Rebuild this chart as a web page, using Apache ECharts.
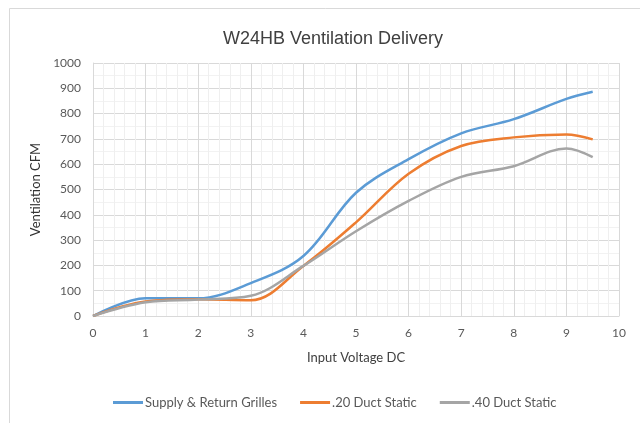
<!DOCTYPE html>
<html>
<head>
<meta charset="utf-8">
<script src="https://cdn.jsdelivr.net/npm/echarts@6/dist/echarts.min.js"></script>
<style>
  html, body { margin: 0; padding: 0; background: #ffffff; }
  #chart { width: 640px; height: 423px; }
</style>
</head>
<body>
<div id="chart"></div>
<script>
// Input voltage (DC) readings
const voltage = [0, 1, 2, 3, 4, 5, 6, 7, 8, 9, 9.5];

// Delivered airflow (CFM) for each configuration
const supplyReturnGrilles = [0, 70, 70, 130, 237, 487, 620, 722, 778, 858, 886];
const ductStatic20 = [0, 57, 66, 62, 198, 370, 562, 672, 706, 717, 698];
const ductStatic40 = [0, 54, 65, 80, 198, 335, 455, 550, 592, 662, 628];

const seriesNames = ['Supply & Return Grilles', '.20 Duct Static', '.40 Duct Static'];
const seriesColors = ['#5b9bd5', '#ed7d31', '#a5a5a5'];

const pair = (ys) => voltage.map((v, i) => [v, ys[i]]);

const chart = echarts.init(document.getElementById('chart'));

const makeLine = (name, ys, color) => ({
  name: name,
  type: 'line',
  data: pair(ys),
  smooth: 0.35,
  showSymbol: false,
  lineStyle: { color: color, width: 2.5 },
  itemStyle: { color: color }
});

chart.setOption({
  backgroundColor: '#ffffff',
  animation: false,
  textStyle: { fontFamily: 'Lato, "Liberation Sans", sans-serif' },
  graphic: [{
    type: 'rect',
    shape: { x: 9.5, y: 8.5, width: 700, height: 500 },
    style: { fill: 'none', stroke: '#d9d9d9', lineWidth: 1 },
    silent: true
  }],
  title: {
    text: 'W24HB Ventilation Delivery',
    left: 328,
    textAlign: 'center',
    top: 25,
    textStyle: {
      fontFamily: '"Liberation Sans", Arial, sans-serif',
      fontSize: 18,
      fontWeight: 'normal',
      color: '#404040'
    }
  },
  legend: {
    data: seriesNames,
    bottom: 9,
    left: 108,
    itemWidth: 30,
    itemHeight: 3,
    itemGap: 23,
    icon: 'rect',
    textStyle: { fontSize: 13, color: '#595959', padding: [0, 0, 0, -3] }
  },
  grid: { left: 93, right: 21, top: 63, bottom: 107 },
  xAxis: {
    type: 'value',
    min: 0,
    max: 10,
    interval: 1,
    name: 'Input Voltage DC',
    nameLocation: 'middle',
    nameGap: 35,
    nameTextStyle: { fontSize: 13, color: '#404040' },
    axisLine: { show: true, lineStyle: { color: '#d9d9d9' } },
    axisTick: { show: false },
    axisLabel: { fontSize: 12, color: '#595959', margin: 11 },
    splitLine: { show: true, lineStyle: { color: '#d9d9d9', width: 1 } },
    minorTick: { show: false, splitNumber: 5 },
    minorSplitLine: { show: true, lineStyle: { color: '#efefef', width: 1 } }
  },
  yAxis: {
    type: 'value',
    min: 0,
    max: 1000,
    interval: 100,
    name: 'Ventilation CFM',
    nameLocation: 'middle',
    nameGap: 46,
    nameRotate: 90,
    nameTextStyle: { fontSize: 13, color: '#333333' },
    axisLine: { show: true, lineStyle: { color: '#d9d9d9' } },
    axisTick: { show: false },
    axisLabel: { fontSize: 12, color: '#595959', margin: 12, formatter: (v) => String(v) },
    splitLine: { show: true, lineStyle: { color: '#d9d9d9', width: 1 } },
    minorTick: { show: false, splitNumber: 2 },
    minorSplitLine: { show: true, lineStyle: { color: '#f2f2f2', width: 1 } }
  },
  series: [
    makeLine(seriesNames[0], supplyReturnGrilles, seriesColors[0]),
    makeLine(seriesNames[1], ductStatic20, seriesColors[1]),
    makeLine(seriesNames[2], ductStatic40, seriesColors[2])
  ]
});
</script>
</body>
</html>
